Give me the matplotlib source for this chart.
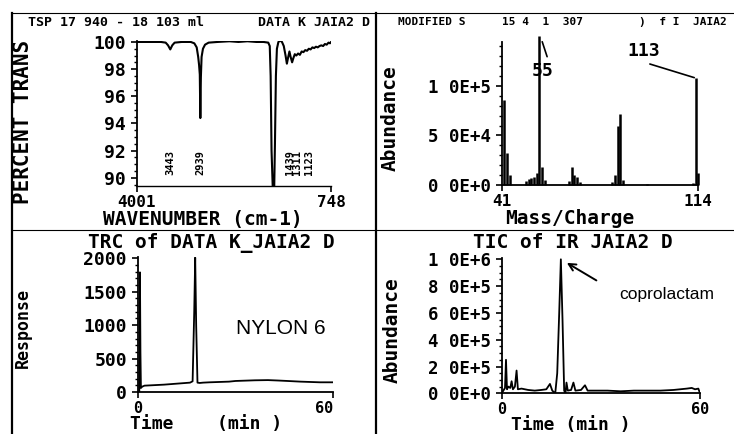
import matplotlib
matplotlib.use("Agg")
import matplotlib.pyplot as plt
from matplotlib.lines import Line2D
from matplotlib.ticker import MultipleLocator

# IR spectrum (wavenumber, percent transmission)
ir_wn = [4001, 3800, 3600, 3520, 3480, 3443, 3410, 3370, 3250, 3100,
         3040, 3000, 2975, 2960, 2948, 2939, 2930, 2918, 2895, 2860,
         2800, 2650, 2450, 2300, 2150, 2000, 1880, 1800, 1775, 1760,
         1745, 1725, 1712, 1700, 1688, 1672, 1655, 1630, 1600, 1570,
         1540, 1510, 1488, 1465, 1445, 1425, 1400, 1380, 1355, 1330,
         1300, 1270, 1240, 1210, 1180, 1150, 1120, 1090, 1060, 1030,
         1000, 970, 940, 910, 880, 850, 820, 790, 765, 748]
ir_trans = [100.0, 100.0, 100.0, 99.95, 99.75, 99.45, 99.75, 99.95, 100.0, 100.0,
            99.9, 99.6, 98.9, 98.3, 97.6, 94.4, 97.4, 98.9, 99.5, 99.8,
            99.95, 100.0, 100.05, 100.0, 100.05, 100.0, 100.0, 99.95, 99.7, 97.5,
            92.0, 89.3, 89.3, 89.3, 92.5, 97.5, 99.5, 100.0, 100.1, 100.0,
            99.7, 99.0, 98.4, 98.9, 99.3, 98.9, 98.5, 98.8, 99.1, 99.0,
            99.15, 99.05, 99.3, 99.25, 99.4, 99.35, 99.5, 99.45, 99.6, 99.55,
            99.65, 99.6, 99.7, 99.75, 99.7, 99.85, 99.8, 99.95, 99.9, 100.0]
ir_labels = [3443, 2939, 1439, 1311, 1123]
ir_yticks = [90, 92, 94, 96, 98, 100]

# mass spectrum
ms_mz = [42, 43, 44, 50, 51, 52, 53, 54, 55, 56, 57, 66, 67, 68, 69, 70,
         82, 83, 84, 85, 86, 95, 112, 113, 114]
ms_abund = [86000, 32000, 10000, 4000, 6000, 7000, 8500, 12000, 150000, 18500,
            5000, 4000, 18000, 10000, 8000, 3000, 3000, 10000, 60000, 72000,
            5000, 1500, 2500, 108000, 12000]
ms_yticks = [0, 50000, 100000]
ms_ylabels = ["0 0E+0", "5 0E+4", "1 0E+5"]

# TRC chromatogram
trc_time = [0.0, 0.4, 0.6, 0.75, 0.9, 1.3, 2.0, 4.0, 8.0, 12.0,
            16.0, 16.8, 17.3, 17.6, 17.9, 18.3, 19.0, 20.0, 22.0, 25.0,
            28.0, 30.0, 33.0, 36.0, 40.0, 43.0, 46.0, 50.0, 53.0, 56.0, 60.0]
trc_resp = [0, 10, 1790, 600, 60, 80, 95, 100, 110, 125,
            140, 160, 1200, 2010, 1000, 140, 135, 140, 145, 150,
            155, 165, 170, 175, 178, 172, 165, 155, 150, 145, 145]
trc_yticks = [0, 500, 1000, 1500, 2000]

# TIC chromatogram (x 1e6)
tic_time = [0.0, 0.5, 1.0, 1.3, 1.6, 2.0, 2.6, 3.0, 3.4, 4.0,
            4.5, 4.9, 6.0, 8.0, 10.0, 12.0, 13.5, 14.6, 15.3, 16.2,
            16.8, 17.4, 17.9, 18.4, 18.9, 19.3, 19.6, 20.0, 21.0, 21.7,
            22.3, 24.0, 25.2, 26.0, 28.0, 32.0, 36.0, 40.0, 44.0, 48.0,
            52.0, 54.0, 56.0, 57.5, 58.5, 59.5, 60.0]
tic_abund = [0.0, 0.02, 0.04, 0.25, 0.03, 0.05, 0.04, 0.09, 0.03, 0.05,
             0.17, 0.03, 0.035, 0.025, 0.02, 0.025, 0.03, 0.07, 0.02, 0.0,
             0.15, 0.6, 1.0, 0.55, 0.02, 0.0, 0.08, 0.02, 0.025, 0.08,
             0.02, 0.025, 0.06, 0.02, 0.02, 0.02, 0.015, 0.02, 0.02, 0.02,
             0.025, 0.03, 0.035, 0.04, 0.03, 0.035, 0.0]
tic_yticks = [0, 2e5, 4e5, 6e5, 8e5, 1e6]
tic_ylabels = ["0 0E+0", "2 0E+5", "4 0E+5", "6 0E+5", "8 0E+5", "1 0E+6"]

plt.rcParams['font.family'] = 'DejaVu Sans Mono'
plt.rcParams['font.weight'] = 'bold'
NARROW = ['Liberation Sans Narrow', 'Liberation Sans', 'DejaVu Sans']

W, H = 734, 434
fig = plt.figure(figsize=(W / 100, H / 100), dpi=100)


def fx(x):
    return x / W


def fy(y):
    return 1 - y / H


def panel(left, top, right, bottom):
    ax = fig.add_axes([fx(left), fy(bottom), (right - left) / W, (bottom - top) / H])
    ax.spines[['top', 'right']].set_visible(False)
    ax.spines[['left', 'bottom']].set_linewidth(1.3)
    ax.tick_params(which='major', direction='out', length=4.5, width=1.2, pad=3.5)
    ax.tick_params(which='minor', direction='out', length=2.5, width=1.0)
    ax.tick_params(axis='x', length=4, pad=2.5)
    ax.patch.set_alpha(0)
    return ax


# frame lines
for xs, ys, lw in [([12, 734], [13, 13], 0.8), ([12, 12], [13, 434], 1.6),
                   ([376, 376], [13, 434], 1.6), ([12, 734], [230, 230], 0.8)]:
    fig.add_artist(Line2D([fx(x) for x in xs], [fy(y) for y in ys],
                          transform=fig.transFigure, color='k', lw=lw))

# headers
fig.text(fx(28), fy(22), "TSP 17 940 - 18 103 ml", fontsize=9.5, va='center')
fig.text(fx(370), fy(22), "DATA K JAIA2 D", fontsize=9.5, va='center', ha='right')
fig.text(fx(398), fy(22), "MODIFIED S", fontsize=8, va='center')
fig.text(fx(502), fy(22), "15 4  1  307", fontsize=8, va='center')
fig.text(fx(727), fy(22), ")  f I  JAIA2", fontsize=8, va='center', ha='right')

# IR panel
ax1 = panel(137, 41, 331, 186)
ax1.spines['bottom'].set_linewidth(1.0)
ax1.plot(ir_wn, ir_trans, color='k', lw=1.5)
ax1.set_xlim(4001, 748)
ax1.set_ylim(89.4, 100.07)
ax1.set_yticks(ir_yticks)
ax1.yaxis.set_minor_locator(MultipleLocator(0.5))
ax1.set_xticks([4001, 748])
ax1.set_xticklabels(['4001', '748'])
ax1.tick_params(axis='y', labelsize=13)
ax1.tick_params(axis='x', labelsize=11.5)
for wn in ir_labels:
    ax1.text(wn, 90.2, str(wn), rotation=90, ha='center', va='bottom', fontsize=7.5)
fig.text(fx(23), fy(122), "PERCENT TRANS", rotation=90, fontsize=15, ha='center', va='center')
fig.text(fx(203), fy(219), "WAVENUMBER (cm-1)", fontsize=14, ha='center', va='center')

# mass spectrum panel
ax2 = panel(501.7, 42, 698.3, 185)
ax2.vlines(ms_mz, 0, ms_abund, color='k', lw=1.8, clip_on=False)
ax2.set_xlim(41, 114)
ax2.set_ylim(0, 1.444e5)
ax2.set_yticks(ms_yticks)
ax2.set_yticklabels(ms_ylabels)
ax2.yaxis.set_minor_locator(MultipleLocator(10000))
ax2.set_xticks([41, 114])
ax2.set_xticklabels(['41', '114'])
ax2.tick_params(axis='y', labelsize=12.5)
ax2.tick_params(axis='x', labelsize=11.5)
i55 = ms_mz.index(55)
ax2.annotate('55', xy=(55.4, ms_abund[i55]), xytext=(56.1, 1.15e5), fontsize=13,
             ha='center', va='center', annotation_clip=False,
             arrowprops=dict(arrowstyle='-', color='k', lw=1.2, relpos=(0.8, 1.0),
                             shrinkA=2, shrinkB=4))
i113 = ms_mz.index(113)
ax2.annotate('113', xy=(113, ms_abund[i113]), xytext=(93.6, 1.353e5), fontsize=13,
             ha='center', va='center', annotation_clip=False,
             arrowprops=dict(arrowstyle='-', color='k', lw=1.2, relpos=(0.3, 0.0),
                             shrinkA=3, shrinkB=1))
fig.text(fx(390), fy(118), "Abundance", rotation=90, fontsize=14, ha='center', va='center')
fig.text(fx(570), fy(219), "Mass/Charge", fontsize=14, ha='center', va='center')

# TRC panel
ax3 = panel(138, 256.7, 333, 392)
ax3.plot(trc_time, trc_resp, color='k', lw=1.3)
ax3.set_xlim(0, 60)
ax3.set_ylim(0, 2024)
ax3.set_yticks(trc_yticks)
ax3.yaxis.set_minor_locator(MultipleLocator(100))
ax3.set_xticks([0, 60])
ax3.tick_params(axis='y', labelsize=13)
ax3.tick_params(axis='x', labelsize=11)
ax3.get_xticklabels()[1].set_ha('right')
ax3.text(43.8, 950, "NYLON 6", family=NARROW, fontweight='normal', fontsize=15,
         ha='center', va='center')
fig.text(fx(211), fy(243), "TRC of DATA K_JAIA2 D", fontsize=14, ha='center', va='center')
fig.text(fx(23), fy(328), "Response", rotation=90, fontsize=12, ha='center', va='center')
fig.text(fx(206), fy(424), "Time    (min )", fontsize=13, ha='center', va='center')

# TIC panel
ax4 = panel(501.7, 257.7, 700, 393.3)
ax4.plot(tic_time, [a * 1e6 for a in tic_abund], color='k', lw=1.3)
ax4.set_xlim(0, 60)
ax4.set_ylim(0, 1.012e6)
ax4.set_yticks(tic_yticks)
ax4.set_yticklabels(tic_ylabels)
ax4.yaxis.set_minor_locator(MultipleLocator(5e4))
ax4.set_xticks([0, 60])
ax4.tick_params(axis='y', labelsize=12.5)
ax4.tick_params(axis='x', labelsize=11)
ipk = tic_abund.index(max(tic_abund))
ax4.annotate('coprolactam', xy=(tic_time[ipk], tic_abund[ipk] * 1e6), xytext=(50, 0.74e6),
             family=NARROW, fontweight='normal', fontsize=12.5, ha='center', va='center',
             arrowprops=dict(arrowstyle='->', color='k', lw=1.4, relpos=(0.0, 0.5),
                             shrinkA=17, shrinkB=5))
fig.text(fx(573), fy(243), "TIC of IR JAIA2 D", fontsize=14, ha='center', va='center')
fig.text(fx(392), fy(330), "Abundance", rotation=90, fontsize=14, ha='center', va='center')
fig.text(fx(571), fy(425), "Time (min )", fontsize=13, ha='center', va='center')

fig.savefig("out.png", dpi=100)
